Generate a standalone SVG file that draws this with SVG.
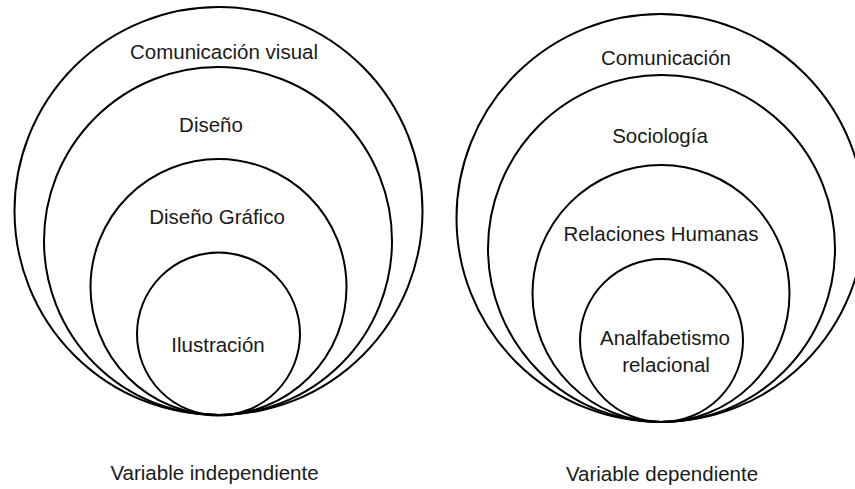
<svg xmlns="http://www.w3.org/2000/svg" width="855" height="489" viewBox="0 0 855 489">
<style>
.c{fill:none;stroke:#000;stroke-width:2}
.t{font-family:"Liberation Sans",Arial,sans-serif;font-size:20.5px;fill:#1a1a1a;text-anchor:middle}
</style>
<rect width="855" height="489" fill="#fff"/>
<g id="left">
<g id="comunicacion-visual"><circle class="c" cx="218.5" cy="211" r="204"/><text class="t" x="224" y="59">Comunicación visual</text></g>
<g id="diseno"><circle class="c" cx="218" cy="241" r="174"/><text class="t" x="211" y="132">Diseño</text></g>
<g id="diseno-grafico"><circle class="c" cx="218.5" cy="287" r="128"/><text class="t" x="217" y="224">Diseño Gráfico</text></g>
<g id="ilustracion"><circle class="c" cx="218.5" cy="334" r="81.5"/><text class="t" x="218" y="352">Ilustración</text></g>
<text class="t" x="214.5" y="480">Variable independiente</text>
</g>
<g id="right">
<g id="comunicacion"><circle class="c" cx="660.5" cy="218" r="204"/><text class="t" x="666" y="65">Comunicación</text></g>
<g id="sociologia"><circle class="c" cx="661.5" cy="248.5" r="173.5"/><text class="t" x="660" y="143">Sociología</text></g>
<g id="relaciones-humanas"><circle class="c" cx="661" cy="293.5" r="128.5"/><text class="t" x="661" y="241">Relaciones Humanas</text></g>
<g id="analfabetismo"><circle class="c" cx="661.5" cy="340.5" r="81.5"/><text class="t" x="665" y="345">Analfabetismo</text><text class="t" x="666" y="372">relacional</text></g>
<text class="t" x="662" y="481">Variable dependiente</text>
</g>
<g id="connectors"/>
</svg>
